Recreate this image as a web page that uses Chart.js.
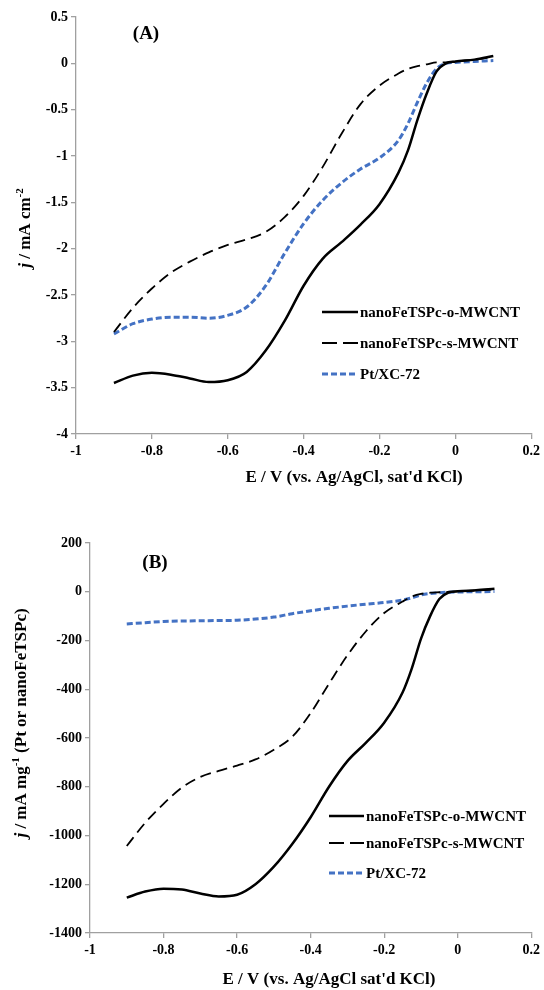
<!DOCTYPE html>
<html lang="en">
<head>
<meta charset="UTF-8">
<title>ORR polarization curves</title>
<script src="https://cdn.jsdelivr.net/npm/chart.js@4.4.1/dist/chart.umd.min.js"></script>
<style>
    body { margin: 0; background: #fff; }
    #wrap { position: relative; width: 544px; height: 990px; }
    .panel { position: absolute; left: 0; width: 544px; height: 495px; }
    #panelA { top: 0; }
    #panelB { top: 495px; }
</style>
</head>
<body>
<div id="wrap">
    <div class="panel" id="panelA"><canvas id="chartA" width="544" height="495"></canvas></div>
    <div class="panel" id="panelB"><canvas id="chartB" width="544" height="495"></canvas></div>
</div>
<script>
// potential, V vs Ag/AgCl
var potential = [-0.9, -0.85, -0.8, -0.75, -0.7, -0.65, -0.6, -0.55, -0.5, -0.45, -0.4, -0.35,
                 -0.3, -0.25, -0.2, -0.15, -0.125, -0.1, -0.075, -0.05, -0.025, 0, 0.05, 0.1];

var seriesNames = ['nanoFeTSPc-o-MWCNT', 'nanoFeTSPc-s-MWCNT', 'Pt/XC-72'];

// (A) current density, mA cm-2
var jOA = [-3.45, -3.37, -3.34, -3.36, -3.40, -3.44, -3.42, -3.33, -3.10, -2.78, -2.40, -2.11,
           -1.93, -1.74, -1.52, -1.18, -0.94, -0.61, -0.32, -0.09, 0.0, 0.02, 0.04, 0.08];
var jSA = [-2.90, -2.64, -2.43, -2.26, -2.14, -2.04, -1.96, -1.90, -1.82, -1.66, -1.43, -1.12,
           -0.76, -0.44, -0.24, -0.11, -0.06, -0.03, -0.01, 0.01, 0.01, 0.02, 0.04, 0.07];
var jPtA = [-2.92, -2.81, -2.76, -2.74, -2.74, -2.75, -2.72, -2.63, -2.40, -2.05, -1.73, -1.48,
            -1.29, -1.14, -1.02, -0.83, -0.65, -0.42, -0.21, -0.06, 0.0, 0.01, 0.02, 0.03];

// (B) mass activity, mA mg-1
var jOB = [-1255, -1230, -1218, -1222, -1238, -1250, -1243, -1200, -1128, -1035, -925, -800,
           -695, -620, -537, -413, -315, -193, -100, -30, -3, 2, 6, 12];
var jSB = [-1043, -948, -870, -803, -760, -735, -713, -688, -648, -595, -498, -377,
           -261, -163, -87, -40, -20, -9, -4, -2, 0, 2, 5, 10];
var jPtB = [-132, -127, -122, -120, -119, -118, -117, -112, -104, -90, -78, -68,
            -59, -51, -44, -34, -25, -13, -7, -4, -2, -1, 0, 1];

var xTicks = [-1, -0.8, -0.6, -0.4, -0.2, 0, 0.2];
var yTicksA = [0.5, 0, -0.5, -1, -1.5, -2, -2.5, -3, -3.5, -4];
var yTicksB = [200, 0, -200, -400, -600, -800, -1000, -1200, -1400];

var SERIF = "'Times New Roman', 'Liberation Serif', serif";
var AXIS_GREY = '#a0a0a0';
var BLUE = '#4472c4';

var styles = [
    { color: '#000', width: 2.5, dash: [], legendDash: [] },
    { color: '#000', width: 1.8, dash: [11, 6], legendDash: [15, 6] },
    { color: BLUE, width: 3, dash: [6, 3], legendDash: [6, 3] }
];

function toPoints(xs, ys) {
    return xs.map(function (x, i) { return { x: x, y: ys[i] }; });
}

function makeDatasets(list) {
    return list.map(function (ys, i) {
        return {
            label: seriesNames[i],
            data: toPoints(potential, ys),
            showLine: true,
            borderColor: styles[i].color,
            borderWidth: styles[i].width,
            borderDash: styles[i].dash,
            pointRadius: 0,
            cubicInterpolationMode: 'monotone',
            fill: false
        };
    });
}

// titles, panel tag and legend drawn by hand (mixed italic / superscript text)
var decor = {
    id: 'decor',
    afterDraw: function (chart, args, o) {
        var ctx = chart.ctx;
        ctx.save();
        ctx.fillStyle = '#000';
        ctx.textBaseline = 'middle';

        ctx.textAlign = 'center';
        ctx.font = 'bold 19px ' + SERIF;
        ctx.fillText(o.tag, o.tagX, o.tagY);

        ctx.font = 'bold 17px ' + SERIF;
        ctx.fillText(o.xTitle, o.xTitleX, o.xTitleY);

        // y title, rotated
        ctx.translate(o.yTitleX, o.yTitleY);
        ctx.rotate(-Math.PI / 2);
        ctx.textAlign = 'left';
        var total = 0;
        o.yTitle.forEach(function (p) {
            ctx.font = p.font + ' ' + SERIF;
            total += ctx.measureText(p.t).width;
        });
        var x = -total / 2;
        o.yTitle.forEach(function (p) {
            ctx.font = p.font + ' ' + SERIF;
            ctx.fillText(p.t, x, p.sup ? -6 : 0);
            x += ctx.measureText(p.t).width;
        });
        ctx.setTransform(1, 0, 0, 1, 0, 0);

        // legend
        ctx.font = 'bold 15px ' + SERIF;
        chart.data.datasets.forEach(function (ds, i) {
            var y = o.legendRows[i];
            ctx.beginPath();
            ctx.strokeStyle = ds.borderColor;
            ctx.lineWidth = ds.borderWidth;
            ctx.setLineDash(styles[i].legendDash);
            ctx.moveTo(o.legendX0, y);
            ctx.lineTo(o.legendX1, y);
            ctx.stroke();
            ctx.setLineDash([]);
            ctx.fillText(ds.label, o.legendX1 + 2, y + 1);
        });
        ctx.restore();
    }
};

function plainLabel(v) {
    return String(v);
}

function makeChart(id, datasets, yTicks, box, decorOpts) {
    return new Chart(document.getElementById(id), {
        type: 'scatter',
        data: { datasets: datasets },
        options: {
            responsive: false,
            animation: false,
            layout: { padding: { top: box.top, right: 544 - box.right, left: 0, bottom: 0 } },
            plugins: {
                legend: { display: false },
                tooltip: { enabled: false },
                decor: decorOpts
            },
            scales: {
                x: {
                    type: 'linear',
                    min: xTicks[0],
                    max: xTicks[xTicks.length - 1],
                    afterBuildTicks: function (s) { s.ticks = xTicks.map(function (v) { return { value: v }; }); },
                    afterFit: function (s) { s.height = 495 - box.bottom; },
                    border: { color: AXIS_GREY, width: 1.3 },
                    grid: { drawOnChartArea: false, color: AXIS_GREY, tickLength: 5, lineWidth: 1.3 },
                    ticks: { color: '#000', padding: 4, maxRotation: 0, callback: plainLabel,
                             font: { family: SERIF, size: 14, weight: 'bold' } }
                },
                y: {
                    type: 'linear',
                    min: yTicks[yTicks.length - 1],
                    max: yTicks[0],
                    afterBuildTicks: function (s) { s.ticks = yTicks.slice().reverse().map(function (v) { return { value: v }; }); },
                    afterFit: function (s) { s.width = box.left; },
                    border: { color: AXIS_GREY, width: 1.3 },
                    grid: { drawOnChartArea: false, color: AXIS_GREY, tickLength: 5, lineWidth: 1.3 },
                    ticks: { color: '#000', padding: 3, callback: plainLabel,
                             font: { family: SERIF, size: 14, weight: 'bold' } }
                }
            }
        },
        plugins: [decor]
    });
}

makeChart('chartA', makeDatasets([jOA, jSA, jPtA]), yTicksA,
    { left: 76, right: 533, top: 17, bottom: 434 },
    {
        tag: '(A)', tagX: 146, tagY: 34,
        xTitle: "E / V (vs. Ag/AgCl, sat'd KCl)", xTitleX: 354, xTitleY: 478,
        yTitle: [{ t: 'j', font: 'italic bold 17px' }, { t: ' / mA cm', font: 'bold 17px' }, { t: '-2', font: 'bold 11px', sup: true }],
        yTitleX: 26, yTitleY: 228,
        legendX0: 322, legendX1: 358, legendRows: [312, 343, 374]
    });

makeChart('chartB', makeDatasets([jOB, jSB, jPtB]), yTicksB,
    { left: 90, right: 533, top: 48, bottom: 438 },
    {
        tag: '(B)', tagX: 155, tagY: 68,
        xTitle: "E / V (vs. Ag/AgCl sat'd KCl)", xTitleX: 329, xTitleY: 485,
        yTitle: [{ t: 'j', font: 'italic bold 17px' }, { t: ' / mA mg', font: 'bold 17px' }, { t: '-1', font: 'bold 11px', sup: true },
                 { t: ' (Pt or nanoFeTSPc)', font: 'bold 17px' }],
        yTitleX: 22, yTitleY: 228,
        legendX0: 329, legendX1: 364, legendRows: [321, 348, 378]
    });
</script>
</body>
</html>
